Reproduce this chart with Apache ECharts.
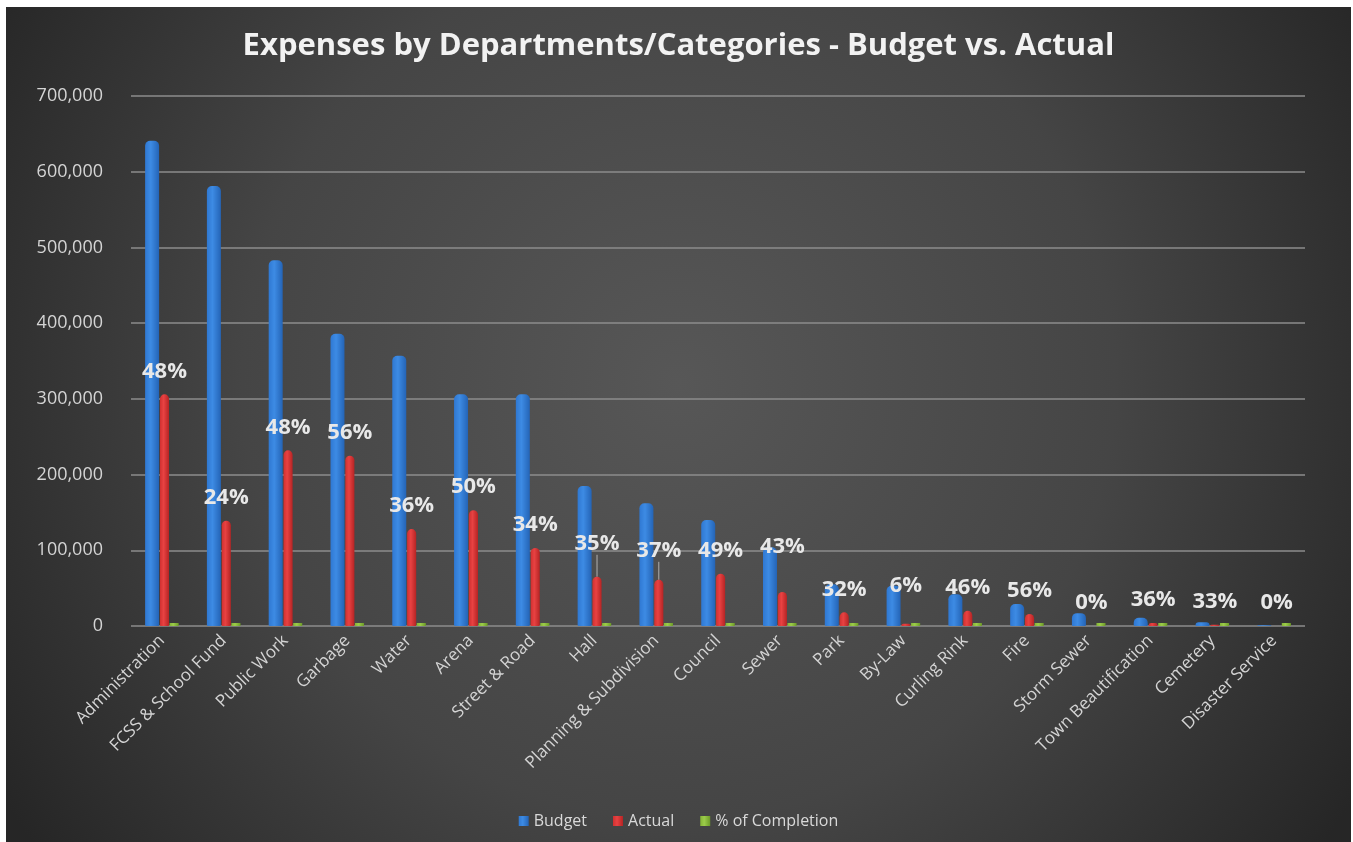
<!DOCTYPE html>
<html>
<head>
<meta charset="utf-8">
<title>Expenses by Departments/Categories - Budget vs. Actual</title>
<script src="https://cdn.jsdelivr.net/npm/echarts@6/dist/echarts.min.js"></script>
<style>
  html, body { margin: 0; padding: 0; background: #ffffff; }
  #chart { position: absolute; left: 6px; top: 7px; width: 1345px; height: 835px; }
</style>
</head>
<body>
<div id="chart"></div>
<script>
// values
const departments = ['Administration', 'FCSS & School Fund', 'Public Work', 'Garbage', 'Water', 'Arena',
    'Street & Road', 'Hall', 'Planning & Subdivision', 'Council', 'Sewer', 'Park', 'By-Law',
    'Curling Rink', 'Fire', 'Storm Sewer', 'Town Beautification', 'Cemetery', 'Disaster Service'];
const budget = [641000, 581000, 483000, 386000, 357000, 306000, 306000, 185000, 162000, 140000,
    104000, 55000, 53000, 42000, 29000, 17000, 11000, 5000, 1000];
const actual = [306000, 139000, 232000, 225000, 128000, 153000, 103000, 65000, 61000, 69000,
    45000, 18000, 3000, 20000, 16000, 100, 4000, 1700, 0];
const completion = [48, 24, 48, 56, 36, 50, 34, 35, 37, 49, 43, 32, 6, 46, 56, 0, 36, 33, 0];
const yTicks = [0, 100000, 200000, 300000, 400000, 500000, 600000, 700000];

// labels that were dragged away from their bar in the original
const labelShift = { 7: -10, 8: -6, 10: -22, 12: -15 };
const withLeader = [7, 8];

const font = '"Open Sans", "Noto Sans", sans-serif';

function cyl(c0, c1, c2) {
    return {
        type: 'linear', x: 0, y: 0, x2: 1, y2: 0,
        colorStops: [{ offset: 0, color: c0 }, { offset: 0.4, color: c1 }, { offset: 1, color: c2 }]
    };
}

const chart = echarts.init(document.getElementById('chart'));

chart.setOption({
    animation: false,
    backgroundColor: {
        type: 'radial', x: 0.5, y: 0.45, r: 0.95,
        colorStops: [
            { offset: 0, color: '#575757' },
            { offset: 0.55, color: '#454545' },
            { offset: 1, color: '#262626' }
        ]
    },
    title: {
        text: 'Expenses by Departments/Categories - Budget vs. Actual',
        left: 'center',
        top: 19,
        textStyle: { color: '#f2f2f2', fontSize: 31, fontWeight: 'bold', fontFamily: font }
    },
    legend: {
        bottom: 8,
        left: 'center',
        itemWidth: 10,
        itemHeight: 10,
        itemGap: 26,
        icon: 'rect',
        textStyle: { color: '#d9d9d9', fontSize: 16, fontFamily: font }
    },
    grid: { left: 125, right: 46, top: 89, bottom: 216 },
    xAxis: {
        type: 'category',
        data: departments,
        axisLine: { show: false },
        axisTick: { show: false },
        axisLabel: {
            rotate: 45,
            interval: 0,
            margin: 12,
            color: '#d4d4d4',
            fontSize: 17,
            fontFamily: font
        }
    },
    yAxis: {
        type: 'value',
        min: yTicks[0],
        max: yTicks[yTicks.length - 1],
        interval: 100000,
        axisLine: { show: false },
        axisTick: { show: false },
        axisLabel: {
            margin: 28,
            padding: [10, 0, 0, 0],
            color: '#d4d4d4',
            fontSize: 18,
            fontFamily: font,
            formatter: v => v.toLocaleString('en-US')
        },
        splitLine: { lineStyle: { color: '#8c8c8c', width: 1.5 } }
    },
    series: [
        {
            name: 'Budget',
            type: 'bar',
            data: budget,
            barWidth: 14,
            barGap: '6%',
            itemStyle: { color: cyl('#2f78d2', '#3d8be4', '#2464b6'), borderRadius: [5, 5, 1, 1] }
        },
        {
            name: 'Actual',
            type: 'bar',
            data: actual.map((v, i) => withLeader.includes(i)
                ? { value: v, labelLine: { show: true } } : v),
            itemStyle: { color: cyl('#d03030', '#e84242', '#b52424'), borderRadius: [5, 5, 1, 1] },
            label: {
                show: true,
                position: 'top',
                distance: 12,
                color: '#e8e8e8',
                fontSize: 22,
                fontWeight: 'bold',
                fontFamily: font,
                formatter: p => completion[p.dataIndex] + '%'
            },
            labelLayout: p => ({ dy: labelShift[p.dataIndex] || 0 }),
            labelLine: { show: false, lineStyle: { color: '#b0b0b0', width: 1 } }
        },
        {
            name: '% of Completion',
            type: 'bar',
            data: completion.map(v => v / 100),
            barMinHeight: 3,
            itemStyle: { color: cyl('#84b436', '#9ccc4a', '#6c9a28') }
        }
    ]
});
</script>
</body>
</html>
